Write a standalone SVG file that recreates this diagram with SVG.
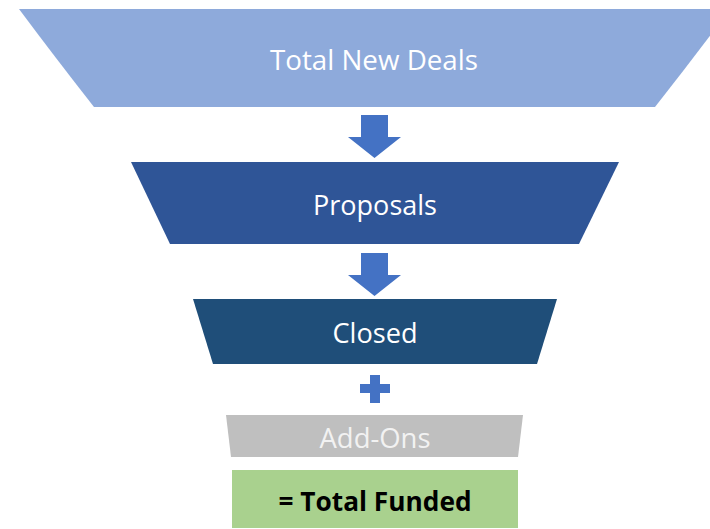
<svg xmlns="http://www.w3.org/2000/svg" width="710" height="529" viewBox="0 0 710 529">
  <style>
    .lbl { font-family: "Open Sans", "Liberation Sans", sans-serif; font-size: 27px; fill: #ffffff; text-anchor: middle; }
    .sum { font-family: "Open Sans", "Liberation Sans", sans-serif; font-size: 26px; font-weight: bold; fill: #000000; text-anchor: middle; }
    .flow { fill: #4472c4; }
  </style>
  <rect width="710" height="529" fill="#ffffff"/>

  <g id="total-new-deals">
    <path d="M19,9 L730,9 Q695,56 655,107 L94,107 Q54,56 19,9 Z" fill="#8eaadb"/>
    <text class="lbl" x="374" y="70" textLength="208" lengthAdjust="spacingAndGlyphs">Total New Deals</text>
  </g>

  <g id="proposals">
    <path d="M131,162 L619,162 L579,244 L170,244 Z" fill="#2f5597"/>
    <text class="lbl" x="375" y="215" textLength="124" lengthAdjust="spacingAndGlyphs">Proposals</text>
  </g>

  <g id="closed">
    <path d="M193,299 L557,299 L537,364 L213,364 Z" fill="#1f4e79"/>
    <text class="lbl" x="375" y="343" textLength="85" lengthAdjust="spacingAndGlyphs">Closed</text>
  </g>

  <g id="add-ons">
    <path d="M226,415 L523,415 L518,457 L231,457 Z" fill="#bfbfbf"/>
    <text class="lbl" x="375" y="448" style="fill:#f2f2f2" textLength="111" lengthAdjust="spacingAndGlyphs">Add-Ons</text>
  </g>

  <g id="total-funded">
    <rect x="232" y="470" width="286" height="58" fill="#a9d18e"/>
    <text class="sum" x="375" y="511" textLength="193" lengthAdjust="spacingAndGlyphs">= Total Funded</text>
  </g>

  <g id="connectors">
    <path class="flow" d="M361,115 L388,115 L388,137 L401,137 L374.5,158 L348,137 L361,137 Z"/>
    <path class="flow" d="M361,253 L388,253 L388,275 L401,275 L374.5,296 L348,275 L361,275 Z"/>
    <path class="flow" d="M370,375 L380,375 L380,384 L390,384 L390,393 L380,393 L380,403 L370,403 L370,393 L360,393 L360,384 L370,384 Z"/>
  </g>
</svg>
